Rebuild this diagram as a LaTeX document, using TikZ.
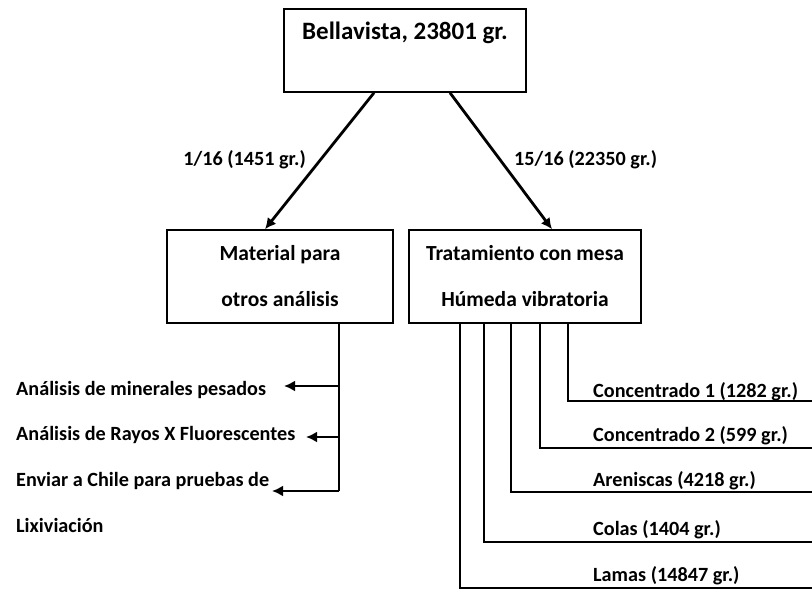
\documentclass[tikz,border=0pt]{standalone}
\usepackage{fontspec}
\setmainfont{Carlito}
\usepackage{xcolor}
\usetikzlibrary{arrows.meta,positioning,calc}
\definecolor{ink}{HTML}{000000}
\tikzset{
  box/.style={draw=ink, line width=1.6pt, rectangle, inner sep=0pt, align=center},
  flow/.style={draw=ink, line width=2.8pt, -{Latex[length=11pt,width=11pt]}},
  link/.style={draw=ink, line width=1.5pt},
  titf/.style={font=\fontsize{25}{30}\selectfont\bfseries},
  boxf/.style={font=\fontsize{21.5}{46}\selectfont\bfseries},
  lab/.style={text=ink, inner sep=0pt, font=\fontsize{20.2}{24}\selectfont\bfseries},
}
\begin{document}
\begin{tikzpicture}[x=1pt,y=-1pt]
\fill[white] (0,0) rectangle (812,592);
\useasboundingbox (0,0) rectangle (812,592);
% boxes
\node[box, titf, minimum width=242pt, minimum height=83pt, text height=20pt, text depth=42.4pt] (top) at (405,50.5) {Bellavista, 23801 gr.};
\node[box, boxf, minimum width=226pt, minimum height=93pt] (mat) at (280,276.5) {Material para\\otros análisis};
\node[box, boxf, minimum width=232pt, minimum height=93pt] (trat) at (525,276.5) {Tratamiento con mesa\\Húmeda vibratoria};
% split
\draw[flow] ([xshift=-31pt]top.south) -- ([xshift=-15pt]mat.north);
\draw[flow] ([xshift=45pt]top.south) -- ([xshift=27pt]trat.north);
\node[lab, anchor=base east] (frac1) at (306,165) {1/16 (1451 gr.)};
\node[lab, anchor=base west] (frac2) at (514,165) {15/16 (22350 gr.)};
% other analyses
\node[lab, anchor=base west] (an1) at (16,395) {Análisis de minerales pesados};
\node[lab, anchor=base west] (an2) at (16,440) {Análisis de Rayos X Fluorescentes};
\node[lab, anchor=base west] (an3) at (16,486.7) {Enviar a Chile para pruebas de};
\node[lab, anchor=base west] (an4) at (16,532) {Lixiviación};
\coordinate (m1) at (339,386);
\coordinate (m2) at (339,437);
\coordinate (m3) at (339,491);
\draw[link] ([xshift=59pt]mat.south) -- (m3);
\draw[flow] (m1) -- (284,386);
\draw[flow] (m2) -- (306,437);
\draw[flow] (m3) -- (272,491);
% table products
\node[lab, anchor=base west] (p1) at (593,397.3) {Concentrado 1 (1282 gr.)};
\node[lab, anchor=base west] (p2) at (593,441.7) {Concentrado 2 (599 gr.)};
\node[lab, anchor=base west] (p3) at (593,486.7) {Areniscas (4218 gr.)};
\node[lab, anchor=base west] (p4) at (593,535) {Colas (1404 gr.)};
\node[lab, anchor=base west] (p5) at (593,581) {Lamas (14847 gr.)};
\coordinate (e1) at (812,401);
\coordinate (e2) at (812,448);
\coordinate (e3) at (812,492);
\coordinate (e4) at (812,542);
\coordinate (e5) at (812,588);
\draw[link] ([xshift=43pt]trat.south) |- (e1);
\draw[link] ([xshift=15pt]trat.south) |- (e2);
\draw[link] ([xshift=-14pt]trat.south) |- (e3);
\draw[link] ([xshift=-41pt]trat.south) |- (e4);
\draw[link] ([xshift=-65pt]trat.south) |- (e5);
\end{tikzpicture}
\end{document}
